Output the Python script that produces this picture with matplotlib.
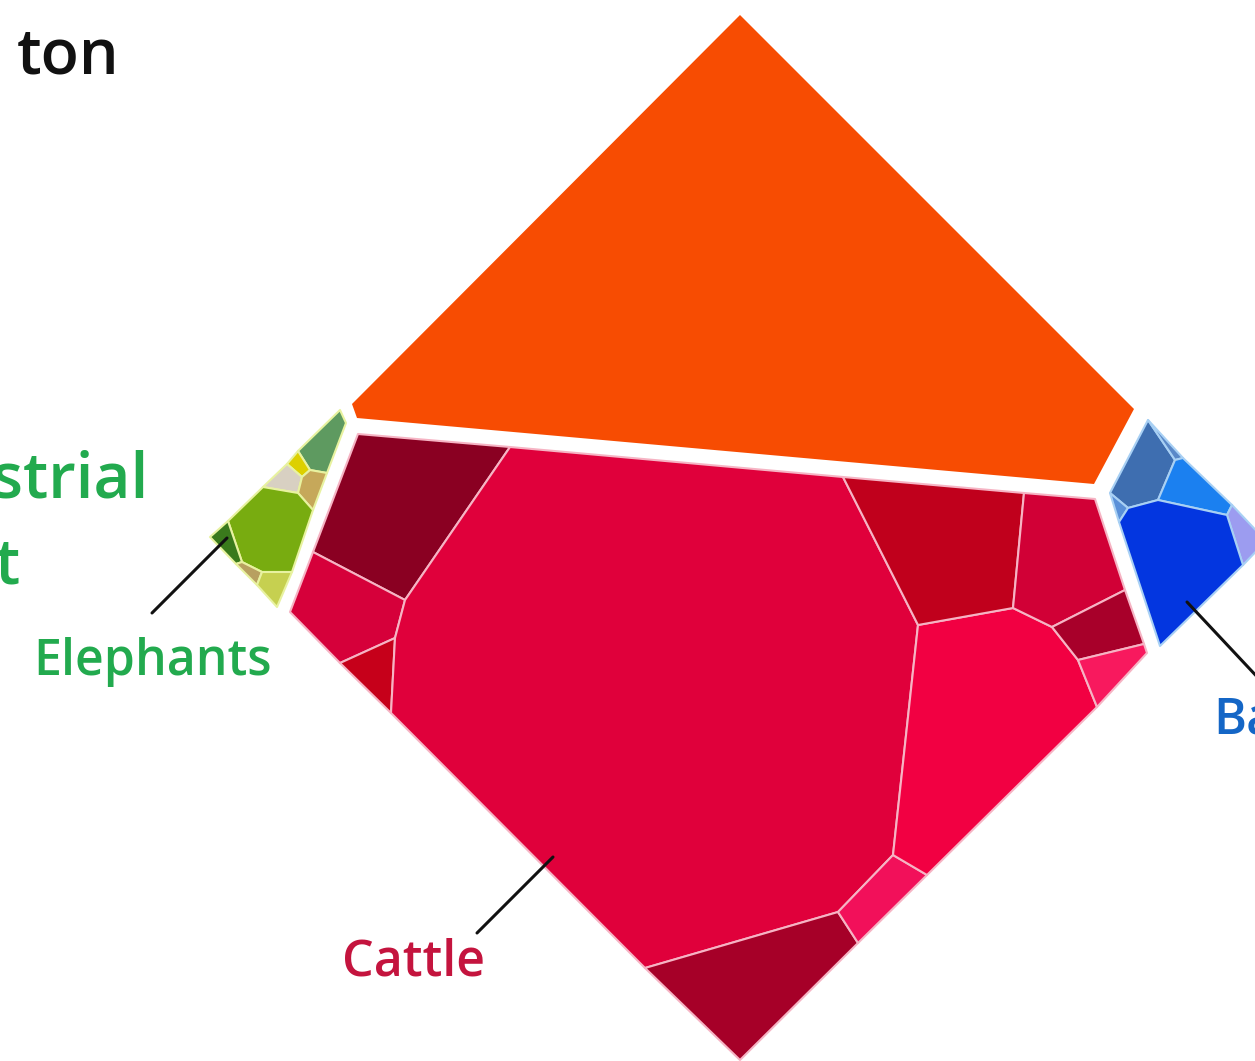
import matplotlib
matplotlib.use("Agg")
import matplotlib.pyplot as plt
from matplotlib.patches import Polygon

# ===============================
# DATA: voronoi cells (picture pixel coords)
# ===============================
# top group
orange_cell = [(740, 15), (1134, 409), (1094, 484), (357, 418), (352, 404)]

# red group (livestock) junction points
r_tl, r_a, r_b, r_c, r_tr = (358, 434), (510, 447), (843, 477), (1024, 493), (1095, 499)
r_d, r_e, r_rc, r_f = (1125, 590), (1144, 644), (1147, 653), (1097, 707)
r_g, r_h, r_bot, r_i = (927, 875), (858, 943), (740, 1060), (645, 968)
r_j, r_k, r_lc, r_l = (391, 713), (340, 663), (290, 612), (313, 552)
r_m, r_n, r_o, r_p = (405, 600), (395, 638), (918, 625), (1013, 608)
r_q, r_s, r_t, r_u = (1052, 627), (1078, 660), (893, 855), (838, 912)

red_cells = [
    [r_tl, r_a, r_m, r_l],
    [r_l, r_m, r_n, r_k, r_lc],
    [r_k, r_n, r_j],
    [r_a, r_b, r_o, r_t, r_u, r_i, r_j, r_n, r_m],   # cattle
    [r_i, r_u, r_h, r_bot],
    [r_u, r_t, r_g, r_h],
    [r_o, r_p, r_q, r_s, r_f, r_g, r_t],
    [r_b, r_c, r_p, r_o],
    [r_c, r_tr, r_d, r_q, r_p],
    [r_q, r_d, r_e, r_s],
    [r_s, r_e, r_rc, r_f],
]
red_colors = ["#8A0022", "#D6003A", "#C6001A", "#E0003B", "#A60028", "#F2105A",
              "#F20042", "#C0001C", "#D10036", "#A8002A", "#F8195E"]

# green group (wild land mammals)
g1, g2, g3, g4, g5 = (340, 410), (346, 423), (327, 473), (310, 470), (298, 451)
g6, g7, g8, g9, g10 = (302, 477), (287, 464), (298, 493), (263, 487), (313, 510)
g11, g12, g13, g14 = (292, 572), (262, 572), (242, 562), (228, 521)
g15, g16, g17, g18 = (210, 537), (236, 564), (257, 585), (277, 607)

green_cells = [
    [g1, g2, g3, g4, g5],
    [g5, g4, g6, g7],
    [g7, g6, g8, g9],
    [g6, g4, g3, g10, g8],
    [g9, g8, g10, g11, g12, g13, g14],   # elephants
    [g15, g14, g13, g16],
    [g16, g13, g12, g17],
    [g12, g11, g18, g17],
]
green_colors = ["#5E9A60", "#DDD000", "#D8D0C2", "#C6A85A", "#78AC10",
                "#3A7A1C", "#B8A060", "#C6D050"]

# blue group (marine)
b_t, b_a, b_b, b_c, b_l = (1148, 420), (1175, 460), (1158, 500), (1128, 508), (1110, 493)
b_d, b_e, b_f, b_g = (1119, 522), (1183, 458), (1232, 505), (1227, 515)
b_h, b_r, b_bot = (1243, 565), (1266, 541), (1160, 646)

blue_cells = [
    [b_t, b_a, b_b, b_c, b_l],
    [b_l, b_c, b_d],
    [b_t, b_e, b_a],
    [b_a, b_e, b_f, b_g, b_b],
    [b_f, b_r, b_h, b_g],
    [b_c, b_b, b_g, b_h, b_bot, b_d],
]
blue_colors = ["#3E6EB0", "#5A90D8", "#5A88C8", "#1B80F0", "#9C9CF0", "#0336E0"]

# labels: text, anchor, leader line
labels = ["ton", "strial", "t", "Elephants", "Cattle", "Ba"]
label_pos = [(17, 73), (148, 498), (20, 583), (33, 675), (342, 975), (1213, 733)]
leaders = [[(152, 613), (227, 538)], [(477, 933), (553, 857)], [(1187, 602), (1262, 682)]]

# ===============================
# PLOT
# ===============================
fig = plt.figure(figsize=(12.55, 10.61), dpi=100)
ax = fig.add_axes([0, 0, 1, 1])
ax.set_xlim(0, 1255)
ax.set_ylim(1061, 0)
ax.axis("off")

ax.add_patch(Polygon(orange_cell, closed=True, facecolor="#F74C02", edgecolor="none"))

for cell, col in zip(red_cells, red_colors):
    ax.add_patch(Polygon(cell, closed=True, facecolor=col, edgecolor="#F6B4C4", lw=1.5, joinstyle="round"))
for cell, col in zip(green_cells, green_colors):
    ax.add_patch(Polygon(cell, closed=True, facecolor=col, edgecolor="#E8F2A0", lw=1.5, joinstyle="round"))
for cell, col in zip(blue_cells, blue_colors):
    ax.add_patch(Polygon(cell, closed=True, facecolor=col, edgecolor="#A8D0F4", lw=1.5, joinstyle="round"))

for seg in leaders:
    xs, ys = zip(*seg)
    ax.plot(xs, ys, color="#111111", lw=2.2, solid_capstyle="round")

green_txt = "#22AA4E"
fam = ["Open Sans", "DejaVu Sans"]
kw = dict(family=fam, va="baseline", fontweight="semibold")
ax.text(*label_pos[0], labels[0], fontsize=45, color="#111111", ha="left", **kw)
ax.text(*label_pos[1], labels[1], fontsize=46, color=green_txt, ha="right", **kw)
ax.text(*label_pos[2], labels[2], fontsize=46, color=green_txt, ha="right", **kw)
ax.text(*label_pos[3], labels[3], fontsize=36, color=green_txt, ha="left", **kw)
ax.text(*label_pos[4], labels[4], fontsize=36, color="#C4143E", ha="left", **kw)
ax.text(*label_pos[5], labels[5], fontsize=36, color="#1466C6", ha="left", **kw)

fig.savefig("out.png", dpi=100, facecolor="white")
